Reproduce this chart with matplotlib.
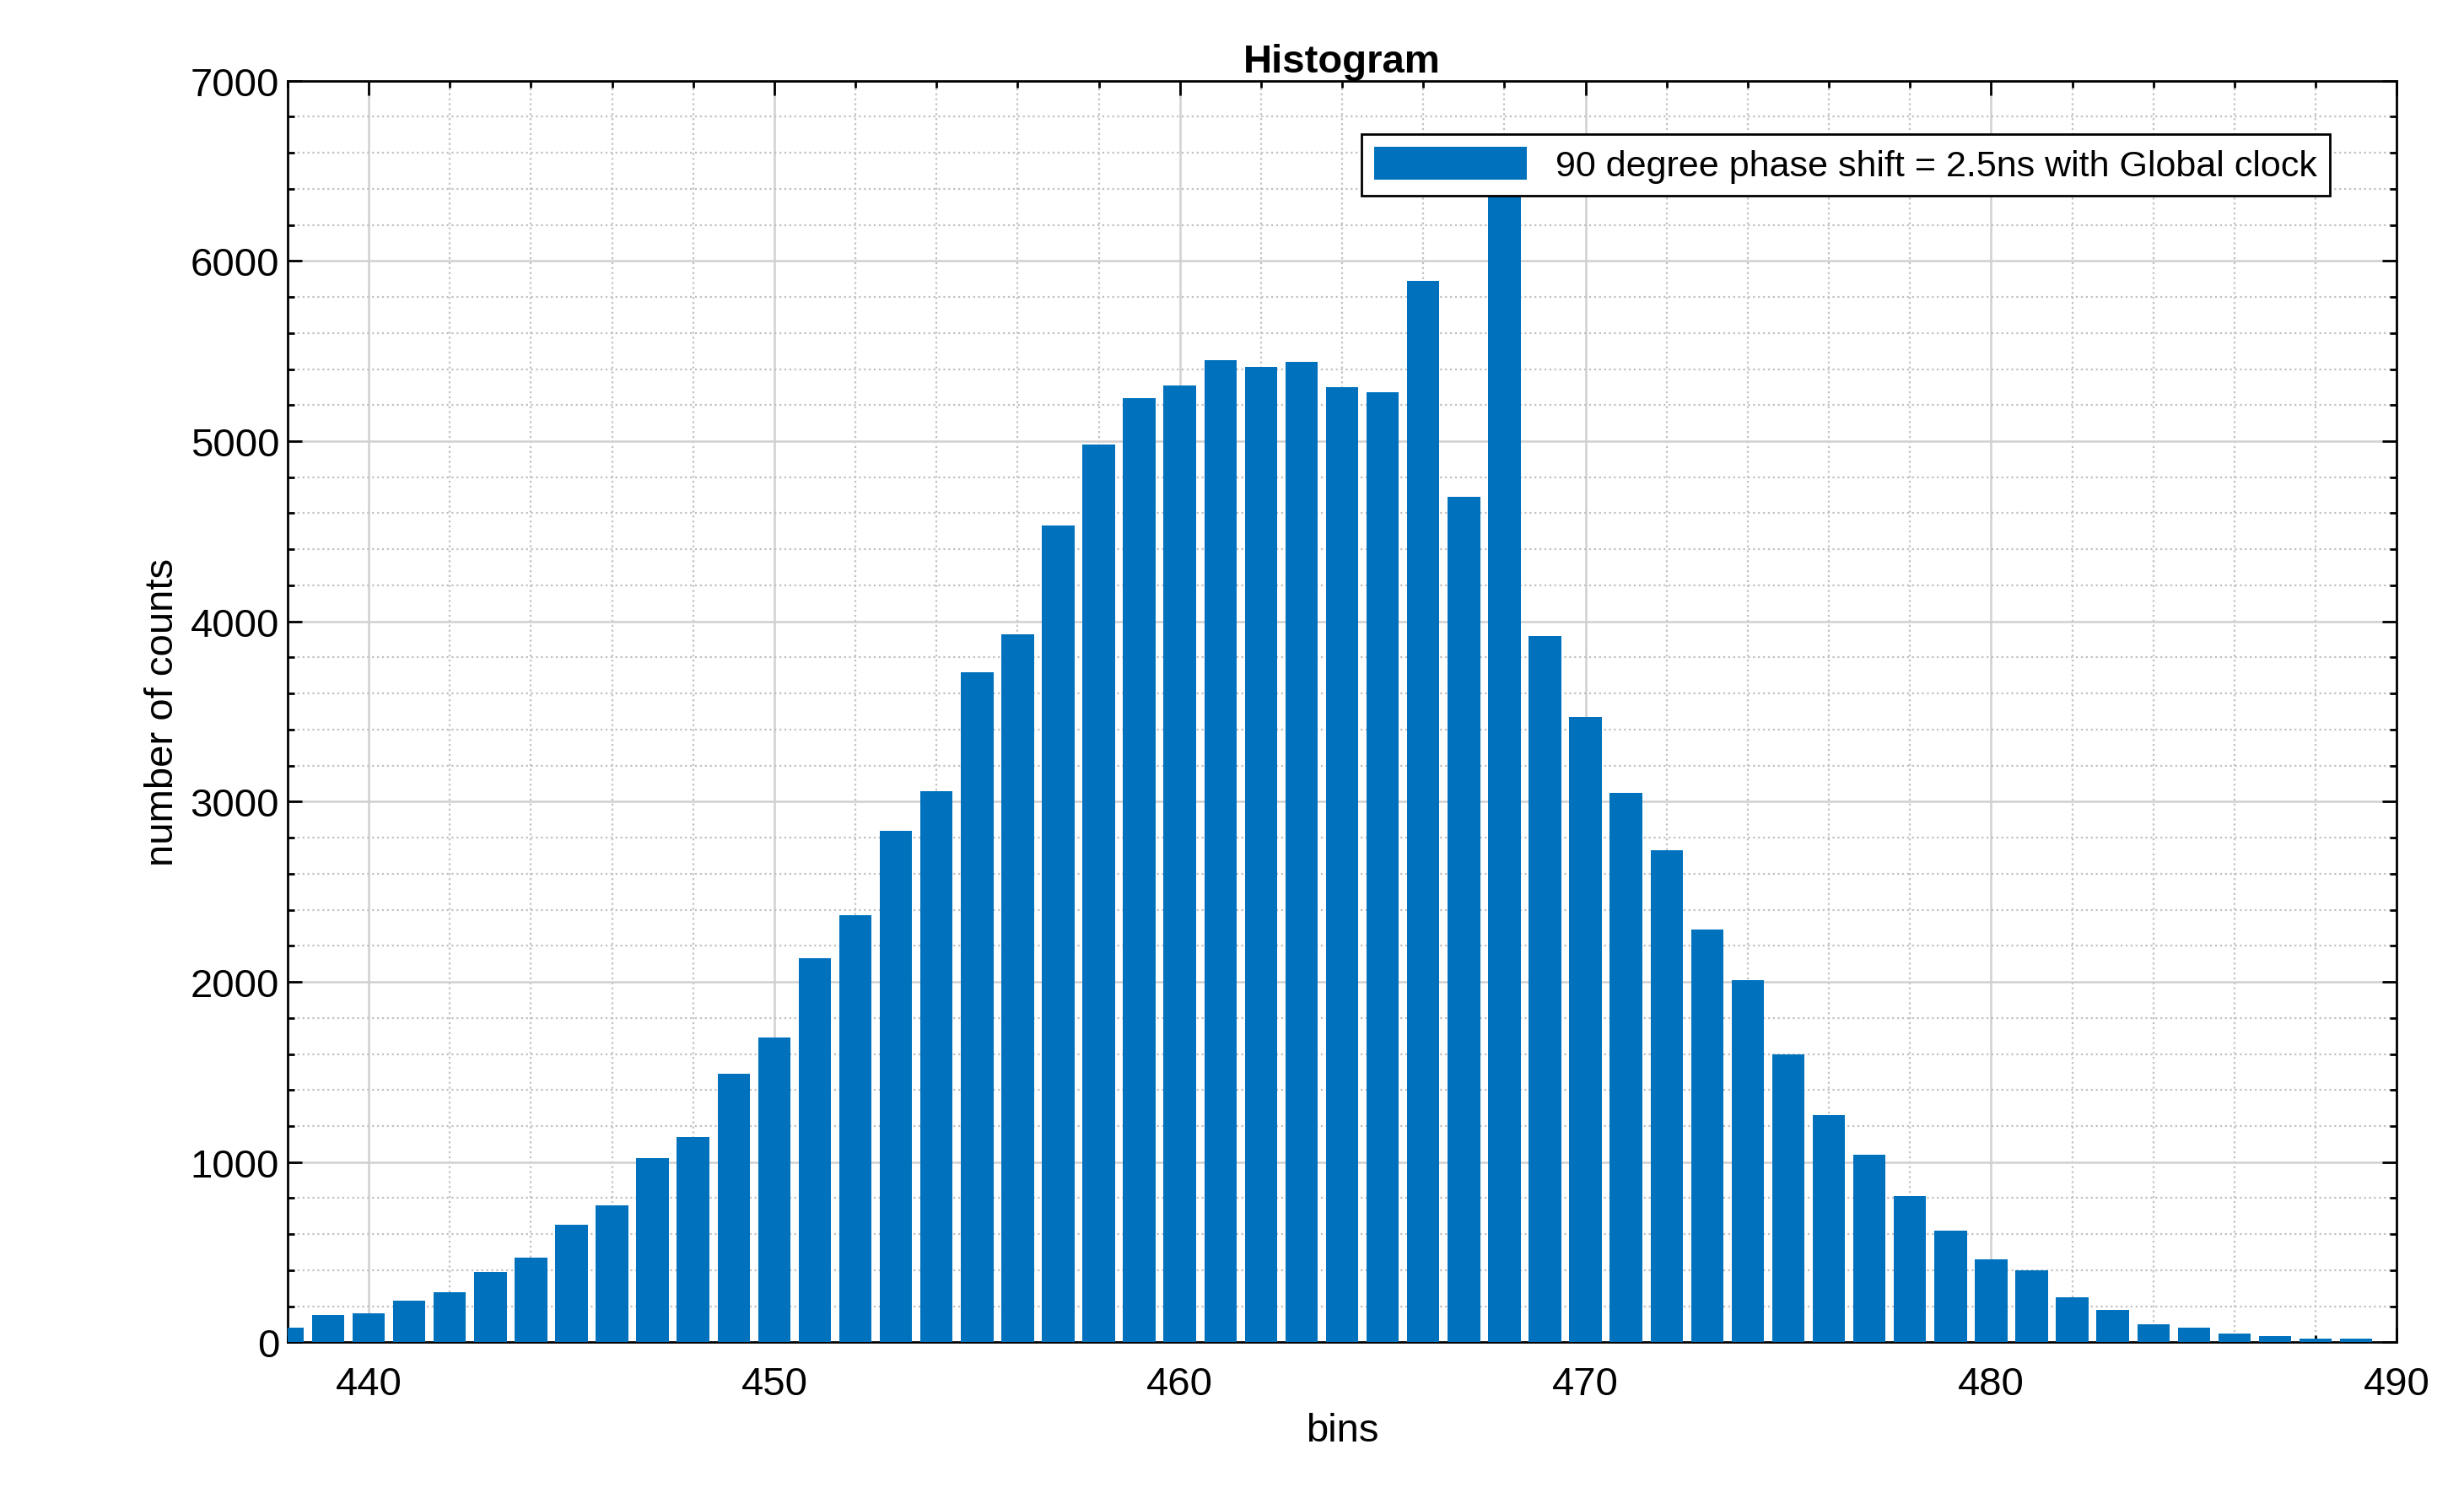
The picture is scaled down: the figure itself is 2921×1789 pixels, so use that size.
import matplotlib
matplotlib.use("Agg")
import matplotlib.pyplot as plt
from matplotlib.ticker import MultipleLocator

bins = list(range(438, 490))
counts = [80, 150, 160, 230, 280, 390, 470, 650, 760, 1020, 1140, 1490, 1690, 2130, 2370,
          2840, 3060, 3720, 3930, 4530, 4980, 5240, 5310, 5450, 5410, 5440, 5300, 5270,
          5890, 4690, 6700, 3920, 3470, 3050, 2730, 2290, 2010, 1600, 1260, 1040, 810,
          620, 460, 400, 250, 180, 100, 80, 50, 35, 20, 20]
label = "90 degree phase shift = 2.5ns with Global clock"

plt.rcParams['font.family'] = ['Liberation Sans', 'DejaVu Sans']
fig = plt.figure(figsize=(14.605, 8.95), dpi=200)
ax = fig.add_axes([0.1167, 0.1104, 0.856, 0.8356])
ax.bar(bins, counts, width=0.8, color='#0072BD', label=label, zorder=3)
ax.set_xlim(438, 490)
ax.set_ylim(0, 7000)
ax.xaxis.set_major_locator(MultipleLocator(10))
ax.xaxis.set_minor_locator(MultipleLocator(2))
ax.yaxis.set_major_locator(MultipleLocator(1000))
ax.yaxis.set_minor_locator(MultipleLocator(200))
ax.grid(which='major', color='#d0d0d0', linewidth=0.9, zorder=0)
ax.grid(which='minor', color='#c0c0c0', linestyle=':', linewidth=0.8, zorder=0)
ax.tick_params(which='both', direction='in', top=True, right=True, labelsize=17, width=1.0)
ax.tick_params(which='major', length=6)
ax.tick_params(which='minor', length=3)
ax.tick_params(axis='x', pad=10)
for s in ax.spines.values():
    s.set_linewidth(1.0)
ax.set_title("Histogram", fontsize=17, fontweight='bold', pad=4)
ax.set_xlabel("bins", fontsize=17)
ax.set_ylabel("number of counts", fontsize=17, fontstretch='condensed')
leg = ax.legend(loc='upper right', bbox_to_anchor=(0.977, 0.972), fontsize=15.5,
                handlelength=4.2, handleheight=1.0, fancybox=False, framealpha=1,
                edgecolor='black', borderpad=0.35)
leg.set_zorder(5)
leg.get_frame().set_linewidth(1.0)
fig.savefig("out.png", dpi=200)
